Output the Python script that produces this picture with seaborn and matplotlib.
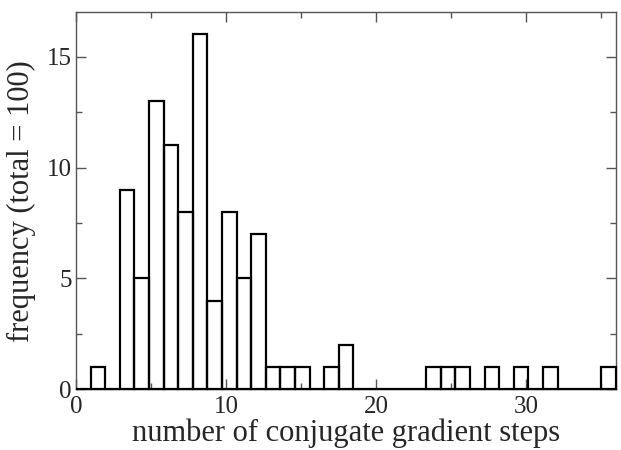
import numpy as np
import pandas as pd
import matplotlib
matplotlib.use('Agg')
import matplotlib.pyplot as plt
from matplotlib.ticker import MultipleLocator
import seaborn as sns

# histogram of CG steps: 37 bins spanning 0..36
bin_lo, bin_hi, n_bins = 0, 36, 37
counts = [0, 1, 0, 9, 5, 13, 11, 8, 16, 4, 8, 5, 7, 1, 1, 1, 0, 1, 2,
          0, 0, 0, 0, 0, 1, 1, 1, 0, 1, 0, 1, 0, 1, 0, 0, 0, 1]

x_label = 'number of conjugate gradient steps'
y_label = 'frequency (total = 100)'

edges = np.linspace(bin_lo, bin_hi, n_bins + 1)
centers = (edges[:-1] + edges[1:]) / 2
df = pd.DataFrame({'steps': centers, 'count': counts})

sns.set_style('ticks')
plt.rcParams['font.family'] = ['Liberation Serif', 'DejaVu Serif']

fig = plt.figure(figsize=(6.21, 4.5), dpi=100)
ax = fig.add_axes([0.1224, 0.1349, 0.992 - 0.1224, 0.9727 - 0.1349])

sns.histplot(data=df, x='steps', weights='count', bins=list(edges),
             element='bars', fill=False, color='black', linewidth=1.6, ax=ax)
# let the empty bins show as a thick baseline, like the original
for p in ax.patches:
    p.set_clip_on(False)
    p.set_zorder(3)

ax.set_xlim(0, 36)
ax.set_ylim(0, 17)
ax.xaxis.set_major_locator(MultipleLocator(10))
ax.xaxis.set_minor_locator(MultipleLocator(5))
ax.yaxis.set_major_locator(MultipleLocator(5))
ax.yaxis.set_minor_locator(MultipleLocator(2.5))
ax.tick_params(which='both', direction='in', top=True, right=True,
               color='#555555', width=1)
ax.tick_params(which='major', length=7.5, labelsize=18)
ax.tick_params(axis='x', which='major', pad=5)
ax.tick_params(axis='y', which='major', pad=3)
ax.tick_params(which='minor', length=4.5)
for s in ax.spines.values():
    s.set_color('#555555')
    s.set_linewidth(1)

ax.set_xlabel(x_label, fontsize=22, labelpad=0)
ax.set_ylabel(y_label, fontsize=22, labelpad=8)

fig.savefig('out.png', dpi=100)
